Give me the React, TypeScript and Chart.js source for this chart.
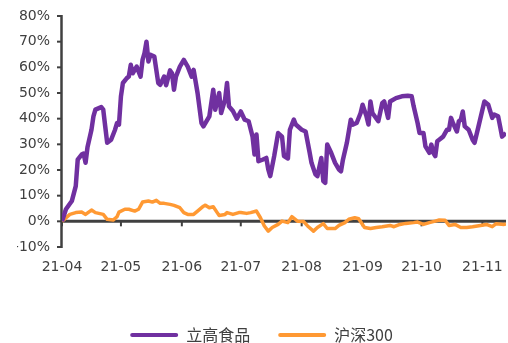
import { useEffect, useRef, useState } from "react";
import { Chart, registerables } from "chart.js";

Chart.register(...registerables);

// Month start positions (days since 2021-04-01) and their labels
const monthStartDays = [0, 30, 61, 91, 122, 153, 183, 214];
const monthLabels = ["21-04", "21-05", "21-06", "21-07", "21-08", "21-09", "21-10", "21-11"];
const xMaxDay = 226;

const seriesNames = ["立高食品", "沪深300"];

// 立高食品 cumulative return (%)
const ligaoDays = [
  0, 2, 5, 7, 8, 10, 11, 12, 13, 15,
  16, 17, 20, 21, 22, 23, 25, 27, 28, 29,
  30, 31, 33, 34, 35, 36, 38, 40, 41, 42,
  43, 44, 45, 47, 49, 50, 52, 53, 55, 56,
  57, 58, 60, 62, 64, 66, 67, 69, 71, 72,
  75, 77, 78, 80, 81, 83, 84, 85, 87, 89,
  91, 93, 95, 97, 98, 99, 100, 102, 104, 105,
  106, 108, 110, 112, 113, 115, 116, 118, 119, 122,
  124, 126, 127, 129, 130, 132, 133, 134, 135, 137,
  139, 141, 142, 143, 145, 147, 148, 150, 152, 153,
  155, 156, 157, 158, 161, 163, 164, 166, 167, 170,
  173, 176, 178, 179, 181, 182, 184, 185, 187, 188,
  189, 190, 191, 192, 194, 196, 197, 198, 199, 201,
  202, 203, 204, 205, 207, 209, 210, 212, 214, 215,
  217, 219, 220, 222, 223, 224, 226,
];
const ligaoValues = [
  0, 4.7, 7.9, 13.7, 24, 26, 26.4, 22.8, 29, 35.7,
  40.9, 43.5, 44.5, 43.5, 37, 30.6, 31.8, 35.7, 38.3, 37.7,
  48.7, 53.9, 55.8, 56.4, 61, 57.7, 60.3, 56.4, 62.9, 65.5,
  70, 62.3, 64.9, 64.2, 53.9, 53.2, 56.4, 53, 58.8, 57.7,
  51.3, 56.4, 60.3, 62.9, 60.3, 56.4, 59, 50, 38.3, 37,
  40.9, 51.3, 43.5, 50, 42.2, 47.4, 53.9, 44.8, 43, 40,
  42.8, 39.6, 39, 33, 26, 33.8, 23.4, 24, 24.7, 20.2,
  17.6, 25.4, 34.4, 33, 25.4, 24.5, 35.7, 39.6, 37.7, 35.7,
  35, 27, 22.8, 18.3, 17.6, 24.7, 15.7, 15, 29.9, 26.7,
  22.8, 20.2, 19.5, 24, 30.6, 39.6, 37.7, 38.3, 42.2, 45.4,
  40.9, 37.7, 46.7, 42.2, 39, 46, 46.7, 40.3, 46.7, 48,
  48.7, 48.9, 48.7, 44.8, 38.3, 34.4, 34.4, 29.2, 26.7, 29.9,
  26.7, 25.4, 31.2, 31.8, 33, 35.7, 35.7, 40.3, 38.3, 35,
  39, 39.6, 42.8, 37, 35.7, 31.8, 30.6, 37, 43.5, 46.7,
  45.4, 40.3, 41.6, 40.9, 37, 33, 34.4,
];

// 沪深300 cumulative return (%)
const hs300Days = [
  0, 4, 7, 10, 12, 15, 17, 21, 23, 26,
  28, 29, 32, 34, 37, 39, 41, 44, 46, 48,
  50, 52, 55, 57, 60, 62, 64, 67, 69, 72,
  73, 75, 77, 79, 80, 83, 84, 87, 90, 91,
  94, 96, 99, 101, 103, 105, 107, 110, 112, 115,
  117, 120, 123, 125, 128, 130, 133, 135, 139, 141,
  144, 146, 149, 151, 154, 157, 160, 163, 167, 169,
  172, 175, 179, 181, 184, 187, 190, 192, 195, 197,
  200, 203, 206, 209, 213, 216, 219, 221, 225, 226,
];
const hs300Values = [
  0, 2.7, 3.4, 3.6, 2.7, 4.4, 3.4, 2.7, 0.8, 0.5,
  1.8, 3.6, 4.7, 4.7, 4, 4.7, 7.5, 7.9, 7.5, 8.2,
  7, 7, 6.6, 6.2, 5.3, 3.4, 2.7, 2.7, 4, 5.9,
  6.3, 5.3, 5.7, 3.4, 2.3, 2.7, 3.4, 2.7, 3.4, 3.4,
  3.1, 3.4, 4, 1.4, -1.8, -3.8, -2.4, -1.2, 0.1, -0.5,
  1.8, 0, -0.1, -1.8, -3.8, -2.4, -0.9, -2.8, -2.8, -1.6,
  -0.5, 0.8, 1.4, 1, -2.4, -2.8, -2.4, -2.1, -1.6, -2.1,
  -1.2, -0.8, -0.5, -0.3, -1.2, -0.5, 0.1, 0.5, 0.4, -1.6,
  -1.2, -2.4, -2.4, -2.1, -1.6, -1.2, -2.1, -0.9, -1.2, -1,
];

const yMin = -10;
const yMax = 80;
const yStep = 10;

const AXIS_COLOR = "#404040";

// Draws the axis frame (y axis line + ticks, zero line + month ticks) from the library's scales
const axisFramePlugin = {
  id: "axisFrame",
  beforeDatasetsDraw(chart: any) {
    const { ctx, chartArea, scales } = chart;
    const y = scales.y;
    const x = scales.x;
    const left = chartArea.left;
    const y0 = y.getPixelForValue(0);
    ctx.save();
    ctx.strokeStyle = AXIS_COLOR;
    ctx.lineCap = "butt";
    ctx.lineWidth = 2;
    y.ticks.forEach((t: any) => {
      const py = y.getPixelForValue(t.value);
      ctx.beginPath();
      ctx.moveTo(left - 5, py);
      ctx.lineTo(left, py);
      ctx.stroke();
    });
    monthStartDays.forEach((d) => {
      const px = x.getPixelForValue(d);
      ctx.beginPath();
      ctx.moveTo(px, y0);
      ctx.lineTo(px, y0 + 5);
      ctx.stroke();
    });
    ctx.lineWidth = 2.5;
    ctx.beginPath();
    ctx.moveTo(left - 0.5, y.getPixelForValue(yMax) - 1);
    ctx.lineTo(left - 0.5, y.getPixelForValue(yMin) + 1);
    ctx.stroke();
    ctx.lineWidth = 3;
    ctx.beginPath();
    ctx.moveTo(left - 1, y0);
    ctx.lineTo(chartArea.right, y0);
    ctx.stroke();
    ctx.restore();
  },
  afterDraw(chart: any) {
    // read back one pixel so the canvas content is flushed
    chart.ctx.getImageData(chart.chartArea.left, chart.chartArea.top, 1, 1);
  },
};

export default function App() {
  const canvasRef = useRef<HTMLCanvasElement>(null);
  const [ready, setReady] = useState("");

  useEffect(() => {
    const canvas = canvasRef.current;
    if (!canvas) return;
    const textColor = "#404040";
    const setMonthTicks = (scale: any) => {
      scale.ticks = monthStartDays.map((v) => ({ value: v }));
    };

    const chart = new Chart(canvas, {
      type: "line",
      data: {
        datasets: [
          {
            label: seriesNames[0],
            data: ligaoDays.map((d, i) => ({ x: d, y: ligaoValues[i] })),
            borderColor: "#7030A0",
            backgroundColor: "#7030A0",
            borderWidth: 4.5,
            pointRadius: 0,
            borderJoinStyle: "round",
          },
          {
            label: seriesNames[1],
            data: hs300Days.map((d, i) => ({ x: d, y: hs300Values[i] })),
            borderColor: "#FF9933",
            backgroundColor: "#FF9933",
            borderWidth: 3.5,
            pointRadius: 0,
            borderJoinStyle: "round",
          },
        ],
      },
      options: {
        responsive: false,
        animation: false,
        layout: { padding: { left: 17, right: 2, top: 16, bottom: 0 } },
        scales: {
          x: {
            type: "linear",
            min: 0,
            max: xMaxDay,
            afterBuildTicks: setMonthTicks,
            afterFit: (s: any) => {
              s.height = 52;
              s.paddingLeft = 0;
              s.paddingRight = 0;
            },
            border: { display: false },
            grid: { display: false, drawTicks: false },
            ticks: {
              padding: 12,
              color: textColor,
              autoSkip: false,
              maxRotation: 0,
              font: { family: "DejaVu Sans", size: 14 },
              callback: (v: any) => {
                const i = monthStartDays.indexOf(Number(v));
                return i >= 0 ? monthLabels[i] : "";
              },
            },
          },
          y: {
            min: yMin,
            max: yMax,
            afterFit: (s: any) => {
              s.width = 45;
            },
            border: { display: false },
            grid: {
              drawOnChartArea: false,
              tickLength: 5,
              tickColor: "rgba(0,0,0,0)",
            },
            ticks: {
              stepSize: yStep,
              padding: 7,
              color: textColor,
              font: { family: "DejaVu Sans", size: 14 },
              callback: (v: any) => `${v}%`,
            },
          },
        },
        plugins: {
          legend: {
            position: "bottom",
            maxHeight: 44,
            labels: {
              boxWidth: 48,
              boxHeight: 4,
              padding: 28,
              color: textColor,
              useBorderRadius: true,
              borderRadius: 2,
              font: { family: "Noto Sans CJK SC", size: 16 },
              generateLabels: (c: any) =>
                (Chart.defaults.plugins.legend.labels as any)
                  .generateLabels(c)
                  .map((l: any) => ({ ...l, lineWidth: 0 })),
            },
          },
          tooltip: { enabled: false },
        },
      } as any,
      plugins: [axisFramePlugin],
    });
    setReady("drawn");
    return () => chart.destroy();
  }, []);

  return (
    <div style={{ position: "fixed", left: 0, top: 0, width: 508, height: 343 }}>
      <canvas ref={canvasRef} width={508} height={343} />
      <div
        aria-hidden="true"
        style={{ position: "absolute", left: 0, top: 0, fontSize: 1, color: "transparent", pointerEvents: "none" }}
      >
        {ready}
      </div>
    </div>
  );
}
